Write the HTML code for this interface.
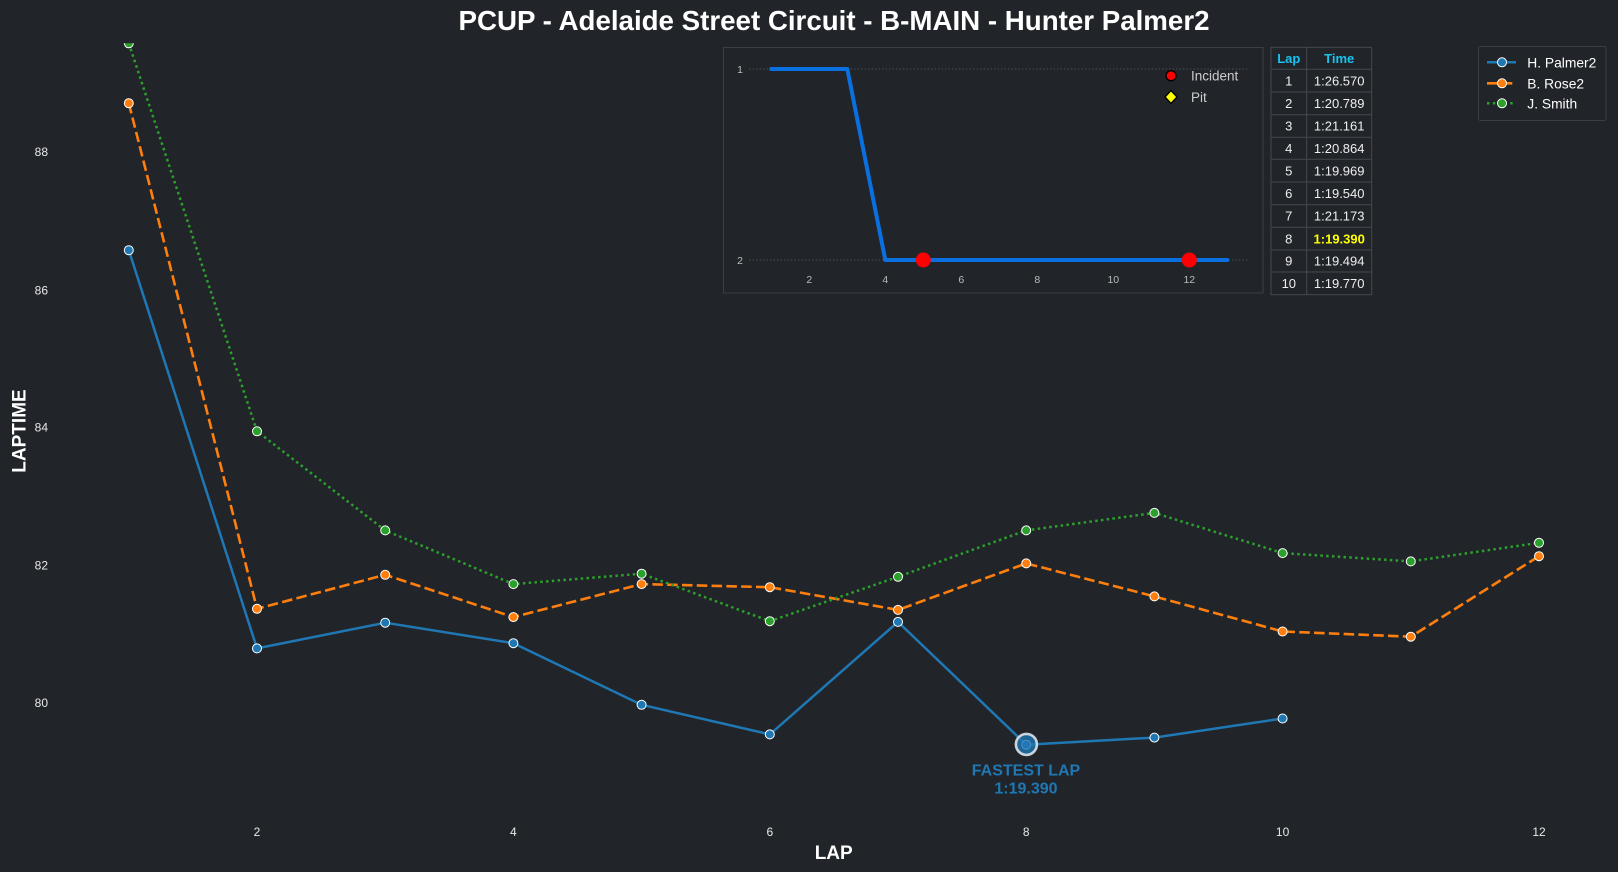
<!DOCTYPE html>
<html>
<head>
<meta charset="utf-8">
<style>
  html, body { margin: 0; padding: 0; background: #212529; }
  body { width: 1618px; height: 872px; overflow: hidden; }
  svg { display: block; font-family: "Liberation Sans", Arial, sans-serif; }
</style>
</head>
<body>
<svg width="1618" height="872" viewBox="0 0 1618 872" xmlns="http://www.w3.org/2000/svg">
  <rect x="0" y="0" width="1618" height="872" fill="#212529"/>
  <defs>
    <clipPath id="ax">
      <rect x="60" y="43.3" width="1550" height="790"/>
    </clipPath>
  </defs>

  <!-- Title -->
  <text x="834" y="30" text-anchor="middle" font-size="27.7" font-weight="bold" fill="#ffffff" textLength="751" lengthAdjust="spacingAndGlyphs">PCUP - Adelaide Street Circuit - B-MAIN - Hunter Palmer2</text>

  <!-- Y tick labels -->
  <g font-size="12" fill="#e8e8e8" text-anchor="end">
    <text x="48" y="156">88</text>
    <text x="48" y="294.3">86</text>
    <text x="48" y="431.5">84</text>
    <text x="48" y="569.3">82</text>
    <text x="48" y="707">80</text>
  </g>
  <!-- X tick labels -->
  <g font-size="12" fill="#e8e8e8" text-anchor="middle">
    <text x="257" y="836">2</text>
    <text x="513.4" y="836">4</text>
    <text x="769.8" y="836">6</text>
    <text x="1026.2" y="836">8</text>
    <text x="1282.6" y="836">10</text>
    <text x="1539" y="836">12</text>
  </g>

  <!-- Axis labels -->
  <text x="833.7" y="859" text-anchor="middle" font-size="19" font-weight="bold" fill="#ffffff">LAP</text>
  <text transform="translate(25.6,431) rotate(-90)" text-anchor="middle" font-size="19" font-weight="bold" fill="#ffffff">LAPTIME</text>

  <g clip-path="url(#ax)">
    <!-- H. Palmer2 -->
    <polyline fill="none" stroke="#1f77b4" stroke-width="2.5" stroke-linejoin="round"
      points="128.8,250.2 257,648.4 385.2,622.7 513.4,643.2 641.6,704.8 769.8,734.4 898,621.9 1026.2,744.7 1154.4,737.6 1282.6,718.5"/>
    <g fill="#1f77b4" stroke="#ffffff" stroke-width="1">
      <circle cx="128.8" cy="250.2" r="4.5"/>
      <circle cx="257" cy="648.4" r="4.5"/>
      <circle cx="385.2" cy="622.7" r="4.5"/>
      <circle cx="513.4" cy="643.2" r="4.5"/>
      <circle cx="641.6" cy="704.8" r="4.5"/>
      <circle cx="769.8" cy="734.4" r="4.5"/>
      <circle cx="898" cy="621.9" r="4.5"/>
      <circle cx="1026.2" cy="744.7" r="4.5"/>
      <circle cx="1154.4" cy="737.6" r="4.5"/>
      <circle cx="1282.6" cy="718.5" r="4.5"/>
    </g>

    <!-- B. Rose2 -->
    <polyline fill="none" stroke="#ff7f0e" stroke-width="2.6" stroke-dasharray="10.5 4.3" stroke-linejoin="round"
      points="128.8,103.2 257,608.8 385.2,574.8 513.4,617.1 641.6,584.1 769.8,587.2 898,609.9 1026.2,563.4 1154.4,596.4 1282.6,631.5 1410.8,636.7 1539,556.2"/>
    <g fill="#ff7f0e" stroke="#ffffff" stroke-width="1">
      <circle cx="128.8" cy="103.2" r="4.5"/>
      <circle cx="257" cy="608.8" r="4.5"/>
      <circle cx="385.2" cy="574.8" r="4.5"/>
      <circle cx="513.4" cy="617.1" r="4.5"/>
      <circle cx="641.6" cy="584.1" r="4.5"/>
      <circle cx="769.8" cy="587.2" r="4.5"/>
      <circle cx="898" cy="609.9" r="4.5"/>
      <circle cx="1026.2" cy="563.4" r="4.5"/>
      <circle cx="1154.4" cy="596.4" r="4.5"/>
      <circle cx="1282.6" cy="631.5" r="4.5"/>
      <circle cx="1410.8" cy="636.7" r="4.5"/>
      <circle cx="1539" cy="556.2" r="4.5"/>
    </g>

    <!-- J. Smith -->
    <polyline fill="none" stroke="#2ca02c" stroke-width="2.5" stroke-dasharray="2.5 3.3" stroke-linejoin="round"
      points="128.8,43.3 257,431.3 385.2,530.4 513.4,584.1 641.6,573.7 769.8,621.2 898,576.8 1026.2,530.4 1154.4,512.9 1282.6,553.1 1410.8,561.4 1539,542.8"/>
    <g fill="#2ca02c" stroke="#ffffff" stroke-width="1">
      <circle cx="128.8" cy="43.3" r="4.5"/>
      <circle cx="257" cy="431.3" r="4.5"/>
      <circle cx="385.2" cy="530.4" r="4.5"/>
      <circle cx="513.4" cy="584.1" r="4.5"/>
      <circle cx="641.6" cy="573.7" r="4.5"/>
      <circle cx="769.8" cy="621.2" r="4.5"/>
      <circle cx="898" cy="576.8" r="4.5"/>
      <circle cx="1026.2" cy="530.4" r="4.5"/>
      <circle cx="1154.4" cy="512.9" r="4.5"/>
      <circle cx="1282.6" cy="553.1" r="4.5"/>
      <circle cx="1410.8" cy="561.4" r="4.5"/>
      <circle cx="1539" cy="542.8" r="4.5"/>
    </g>

    <!-- Fastest lap highlight -->
    <circle cx="1026.4" cy="744.4" r="10.5" fill="#1f77b4" fill-opacity="0.8" stroke="#dde2e8" stroke-opacity="0.9" stroke-width="2.6"/>
  </g>

  <text x="1026" y="775.7" text-anchor="middle" font-size="16" font-weight="bold" fill="#1f77b4">FASTEST LAP</text>
  <text x="1026" y="793.7" text-anchor="middle" font-size="16" font-weight="bold" fill="#1f77b4">1:19.390</text>

  <!-- Inset position chart -->
  <rect x="723.5" y="47.5" width="539.5" height="245.5" fill="#212529" stroke="#3b3f45" stroke-width="1"/>
  <line x1="749" y1="69" x2="1248" y2="69" stroke="#4a4e54" stroke-width="1" stroke-dasharray="1.5 2"/>
  <line x1="749" y1="260" x2="1248" y2="260" stroke="#4a4e54" stroke-width="1" stroke-dasharray="1.5 2"/>
  <g font-size="10.5" fill="#bbbbbb">
    <text x="743" y="72.8" text-anchor="end">1</text>
    <text x="743" y="263.8" text-anchor="end">2</text>
    <g text-anchor="middle">
      <text x="809.3" y="282.8">2</text>
      <text x="885.3" y="282.8">4</text>
      <text x="961.3" y="282.8">6</text>
      <text x="1037.3" y="282.8">8</text>
      <text x="1113.3" y="282.8">10</text>
      <text x="1189.3" y="282.8">12</text>
    </g>
  </g>
  <polyline fill="none" stroke="#0a70e0" stroke-width="4" stroke-linecap="round" stroke-linejoin="round"
    points="771.3,69 847.3,69 885.3,260 1227.3,260"/>
  <circle cx="923.3" cy="260" r="7.5" fill="#ff0000"/>
  <circle cx="1189.3" cy="260" r="7.5" fill="#ff0000"/>
  <!-- inset legend -->
  <circle cx="1171" cy="75.7" r="5" fill="#ff0000" stroke="#000000" stroke-width="1.3"/>
  <polygon points="1171,90.5 1177,97 1171,103.5 1165,97" fill="#ffff00" stroke="#000000" stroke-width="1.3"/>
  <text x="1191" y="80.5" font-size="13.5" fill="#cccccc">Incident</text>
  <text x="1191" y="101.8" font-size="13.5" fill="#cccccc">Pit</text>

  <!-- Table -->
  <g stroke="#45494f" stroke-width="1" fill="none">
    <rect x="1271" y="47.3" width="100.7" height="247.4"/>
    <line x1="1306.7" y1="47.3" x2="1306.7" y2="294.7"/>
    <line x1="1271" y1="69.3" x2="1371.7" y2="69.3"/>
    <line x1="1271" y1="92" x2="1371.7" y2="92"/>
    <line x1="1271" y1="114.7" x2="1371.7" y2="114.7"/>
    <line x1="1271" y1="137.3" x2="1371.7" y2="137.3"/>
    <line x1="1271" y1="159.3" x2="1371.7" y2="159.3"/>
    <line x1="1271" y1="182" x2="1371.7" y2="182"/>
    <line x1="1271" y1="204.7" x2="1371.7" y2="204.7"/>
    <line x1="1271" y1="227.3" x2="1371.7" y2="227.3"/>
    <line x1="1271" y1="250" x2="1371.7" y2="250"/>
    <line x1="1271" y1="272" x2="1371.7" y2="272"/>
  </g>
  <g font-size="13" font-weight="bold" fill="#17c3f0" text-anchor="middle">
    <text x="1288.8" y="63">Lap</text>
    <text x="1339.2" y="63">Time</text>
  </g>
  <g font-size="13" fill="#eeeeee" text-anchor="middle">
    <text x="1288.8" y="85.4">1</text><text x="1339.2" y="85.4">1:26.570</text>
    <text x="1288.8" y="108">2</text><text x="1339.2" y="108">1:20.789</text>
    <text x="1288.8" y="130.7">3</text><text x="1339.2" y="130.7">1:21.161</text>
    <text x="1288.8" y="153">4</text><text x="1339.2" y="153">1:20.864</text>
    <text x="1288.8" y="175.4">5</text><text x="1339.2" y="175.4">1:19.969</text>
    <text x="1288.8" y="198">6</text><text x="1339.2" y="198">1:19.540</text>
    <text x="1288.8" y="220.7">7</text><text x="1339.2" y="220.7">1:21.173</text>
    <text x="1288.8" y="243.4">8</text><text x="1339.2" y="243.4" fill="#ffff00" font-weight="bold">1:19.390</text>
    <text x="1288.8" y="265.7">9</text><text x="1339.2" y="265.7">1:19.494</text>
    <text x="1288.8" y="288">10</text><text x="1339.2" y="288">1:19.770</text>
  </g>

  <!-- Main legend -->
  <rect x="1478.5" y="46.5" width="127.5" height="74" rx="2" fill="#212529" stroke="#3b3f45" stroke-width="1"/>
  <line x1="1487" y1="62.3" x2="1516" y2="62.3" stroke="#1f77b4" stroke-width="2.5"/>
  <circle cx="1502" cy="62.3" r="4.5" fill="#1f77b4" stroke="#fff" stroke-width="1"/>
  <line x1="1487" y1="83.3" x2="1516" y2="83.3" stroke="#ff7f0e" stroke-width="2.6" stroke-dasharray="10.5 4.3"/>
  <circle cx="1502" cy="83.3" r="4.5" fill="#ff7f0e" stroke="#fff" stroke-width="1"/>
  <line x1="1487" y1="103.3" x2="1516" y2="103.3" stroke="#2ca02c" stroke-width="2.5" stroke-dasharray="2.5 3.3"/>
  <circle cx="1502" cy="103.3" r="4.5" fill="#2ca02c" stroke="#fff" stroke-width="1"/>
  <g font-size="13.8" fill="#ffffff">
    <text x="1527.3" y="67.3">H. Palmer2</text>
    <text x="1527.3" y="88.3">B. Rose2</text>
    <text x="1527.3" y="108.3">J. Smith</text>
  </g>
</svg>
</body>
</html>
